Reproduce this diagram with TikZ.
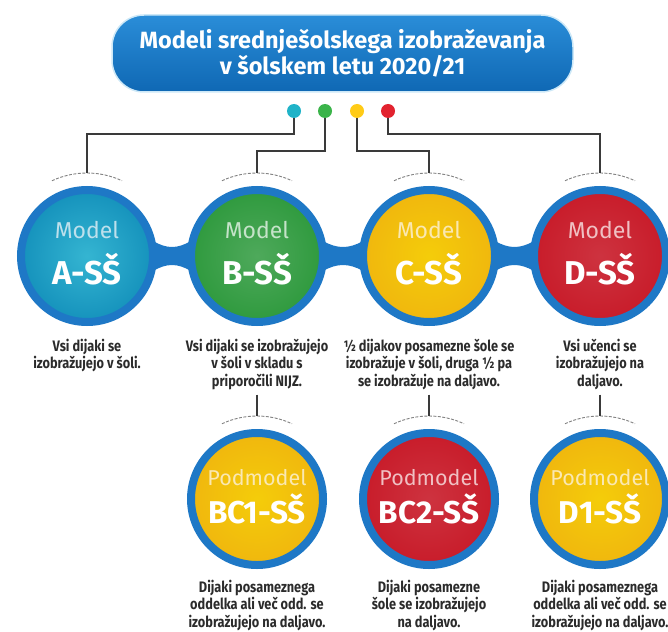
\documentclass[tikz,border=0pt]{standalone}
\usepackage{fontspec}
\setmainfont{Fira Sans}
\newfontfamily\condfont{Fira Sans}[FakeStretch=0.84]
\usetikzlibrary{positioning,backgrounds}
\definecolor{ringBlue}{HTML}{1E78C6}
\definecolor{titleTop}{HTML}{2A8DD8}
\definecolor{titleBottom}{HTML}{0F68B4}
\definecolor{titleGlow}{HTML}{CDE8F7}
\definecolor{wireGray}{HTML}{3A3A3A}
\definecolor{capGray}{HTML}{2B2B2B}
\definecolor{tealBall}{HTML}{1592BC}
\definecolor{greenBall}{HTML}{2F9A3E}
\definecolor{yellowBall}{HTML}{F0B70E}
\definecolor{redBall}{HTML}{C81C2A}
\definecolor{tealDot}{HTML}{20B3C8}
\definecolor{greenDot}{HTML}{3BB44A}
\definecolor{yellowDot}{HTML}{FFCB17}
\definecolor{redDot}{HTML}{E2232F}
\begin{document}
\begin{tikzpicture}[x=1pt,y=-1pt]
		\tikzstyle{Title} = [rectangle, rounded corners=32pt, minimum width=461pt, minimum height=77pt, top color=titleTop, bottom color=titleBottom, draw=titleGlow, line width=1.5pt, text=white, align=center, font=\bfseries\fontsize{23.5}{25.5}\selectfont]
		\tikzstyle{Ball} = [circle, minimum size=132pt, inner sep=0pt, line width=8pt, draw=ringBlue]
		\tikzstyle{Dot} = [circle, minimum size=14pt, inner sep=0pt]
		\tikzstyle{SmallName} = [anchor=base, inner sep=0pt, font=\fontsize{23}{23}\selectfont]
		\tikzstyle{SubSmallName} = [anchor=base, inner sep=0pt, font=\fontsize{21.5}{21.5}\selectfont]
		\tikzstyle{BigName} = [anchor=base, inner sep=0pt, text=white, font=\bfseries\fontsize{33}{33}\selectfont]
		\tikzstyle{SubBigName} = [anchor=base, inner sep=0pt, text=white, font=\bfseries\fontsize{31.5}{31.5}\selectfont]
		\tikzstyle{Caption} = [align=center, inner sep=3pt, text=capGray, font=\condfont\bfseries\fontsize{15.2}{17.3}\selectfont]
		\tikzstyle{wire} = [draw=wireGray, line width=1.2pt]
		\tikzstyle{halo} = [draw=gray, line width=0.9pt, dash pattern=on 3pt off 1.5pt]
		
		\useasboundingbox (0,0) rectangle (668,631);
		
		% title and dots
		\node (title) [Title] at (342.5,53.5) {Modeli srednješolskega izobraževanja\\v šolskem letu 2020/21};
		\node (dotA) [Dot, fill=tealDot] at (294,111) {};
		\node (dotB) [Dot, fill=greenDot] at (325,111) {};
		\node (dotC) [Dot, fill=yellowDot] at (357,111) {};
		\node (dotD) [Dot, fill=redDot] at (388,111) {};
		\coordinate (hiLevel) at (0,134);
		\coordinate (loLevel) at (0,151);
		
		% models
		\node (modelA) [Ball, inner color=tealBall!80!cyan!85!white, outer color=tealBall] at (87,256) {};
		\node (modelB) [Ball, inner color=greenBall!85!white, outer color=greenBall] at (257,256) {};
		\node (modelC) [Ball, inner color=yellowBall!70!yellow, outer color=yellowBall] at (429,256) {};
		\node (modelD) [Ball, inner color=redBall!90!white, outer color=redBall] at (600,256) {};
		\begin{pgfonlayer}{background}
		\foreach \l/\r in {modelA/modelB, modelB/modelC, modelC/modelD}
			\fill [ringBlue] ([xshift=-4pt,yshift=15pt]\l.east) .. controls ([xshift=10pt,yshift=7pt]\l.east) and ([xshift=-10pt,yshift=7pt]\r.west) .. ([xshift=4pt,yshift=15pt]\r.west) -- ([xshift=4pt,yshift=-15pt]\r.west) .. controls ([xshift=-10pt,yshift=-7pt]\r.west) and ([xshift=10pt,yshift=-7pt]\l.east) .. ([xshift=-4pt,yshift=-15pt]\l.east) -- cycle;
		\end{pgfonlayer}
		\node [SmallName, text=white!72!tealBall] at ([yshift=18pt]modelA.center) {Model};
		\node [BigName] at ([yshift=-28pt]modelA.center) {A-SŠ};
		\node [SmallName, text=white!72!greenBall] at ([yshift=18pt]modelB.center) {Model};
		\node [BigName] at ([yshift=-28pt]modelB.center) {B-SŠ};
		\node [SmallName, text=white!68!yellowBall] at ([yshift=18pt]modelC.center) {Model};
		\node [BigName] at ([yshift=-28pt]modelC.center) {C-SŠ};
		\node [SmallName, text=white!72!redBall] at ([yshift=18pt]modelD.center) {Model};
		\node [BigName] at ([yshift=-28pt]modelD.center) {D-SŠ};
		
		\node (capA) [Caption, below=10pt of modelA] {Vsi dijaki se\\izobražujejo v šoli.};
		\node (capB) [Caption, below=10pt of modelB] {Vsi dijaki se izobražujejo\\v šoli v skladu s\\priporočili NIJZ.};
		\node (capC) [Caption, below=10pt of modelC] {½ dijakov posamezne šole se\\izobražuje v šoli, druga ½ pa\\se izobražuje na daljavo.};
		\node (capD) [Caption, below=10pt of modelD] {Vsi učenci se\\izobražujejo na\\daljavo.};
		
		% submodels
		\node (subBC1) [Ball, inner color=yellowBall!70!yellow, outer color=yellowBall] at (257,499) {};
		\node (subBC2) [Ball, inner color=redBall!90!white, outer color=redBall] at (429,499) {};
		\node (subD1) [Ball, inner color=yellowBall!70!yellow, outer color=yellowBall] at (600,499) {};
		\node [SubSmallName, text=white!68!yellowBall] at ([yshift=14pt]subBC1.center) {Podmodel};
		\node [SubBigName] at ([yshift=-24pt]subBC1.center) {BC1-SŠ};
		\node [SubSmallName, text=white!72!redBall] at ([yshift=14pt]subBC2.center) {Podmodel};
		\node [SubBigName] at ([yshift=-24pt]subBC2.center) {BC2-SŠ};
		\node [SubSmallName, text=white!68!yellowBall] at ([yshift=14pt]subD1.center) {Podmodel};
		\node [SubBigName] at ([yshift=-24pt]subD1.center) {D1-SŠ};
		
		\node (capBC1) [Caption, below=8pt of subBC1] {Dijaki posameznega\\oddelka ali več odd. se\\izobražujejo na daljavo.};
		\node (capBC2) [Caption, below=8pt of subBC2] {Dijaki posamezne\\šole se izobražujejo\\na daljavo.};
		\node (capD1) [Caption, below=8pt of subD1] {Dijaki posameznega\\oddelka ali več odd. se\\izobražujejo na daljavo.};
		
		% halos and wires
		\foreach \n in {modelA, modelB, modelC, modelD, subBC1, subBC2, subD1} {
			\coordinate (\n-top) at ([yshift=83pt]\n.center);
			\draw [halo] ([shift={(115:83pt)}]\n.center) arc[start angle=115, end angle=65, radius=83pt];
		}
		\draw [wire] (dotA.south) -- (dotA.south |- hiLevel) -| (modelA-top);
		\draw [wire] (dotB.south) -- (dotB.south |- loLevel) -| (modelB-top);
		\draw [wire] (dotC.south) -- (dotC.south |- loLevel) -| (modelC-top);
		\draw [wire] (dotD.south) -- (dotD.south |- hiLevel) -| (modelD-top);
		\draw [wire] ([yshift=-2pt]capB.south) -- (subBC1-top);
		\draw [wire] ([yshift=-2pt]capC.south) -- (subBC2-top);
		\draw [wire] ([yshift=-2pt]capD.south) -- (subD1-top);
		\end{tikzpicture}
\end{document}
